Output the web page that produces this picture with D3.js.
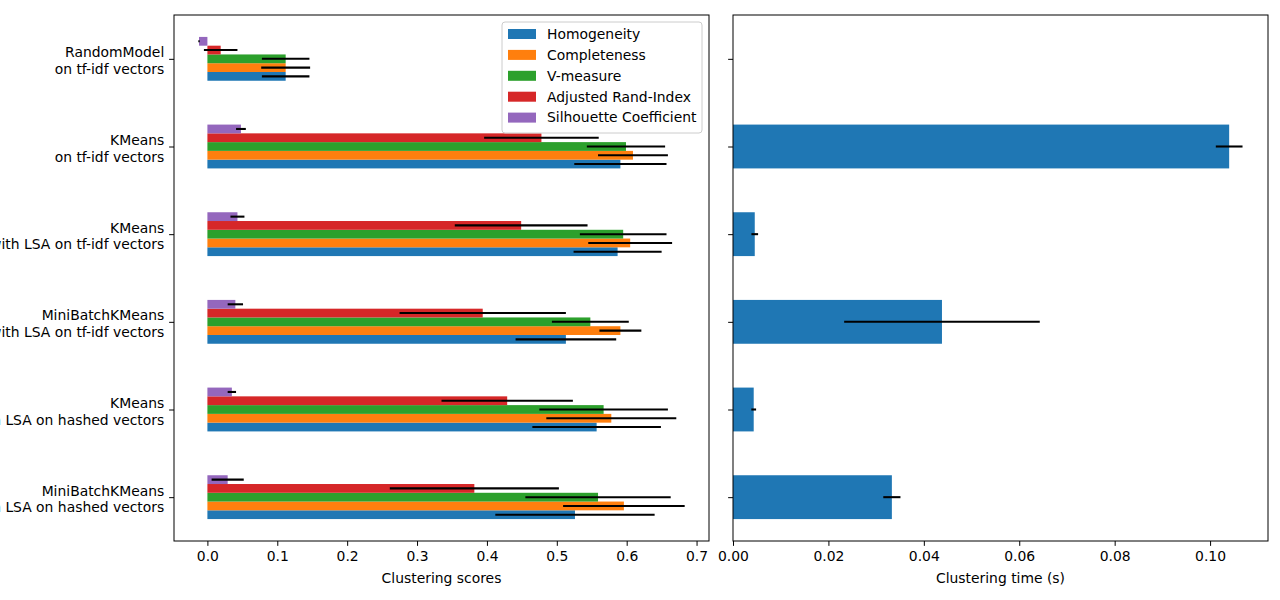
<!DOCTYPE html>
<html>
<head>
<meta charset="utf-8">
<script src="https://cdn.jsdelivr.net/npm/d3@7"></script>
<style>
  body { margin: 0; background: #fff; }
  svg { font-family: "DejaVu Sans", sans-serif; }
</style>
</head>
<body>
<div id="chart"></div>
<script>
// categories, top to bottom
const categories = [
    ['RandomModel', 'on tf-idf vectors'],
    ['KMeans', 'on tf-idf vectors'],
    ['KMeans', 'with LSA on tf-idf vectors'],
    ['MiniBatchKMeans', 'with LSA on tf-idf vectors'],
    ['KMeans', 'with LSA on hashed vectors'],
    ['MiniBatchKMeans', 'with LSA on hashed vectors']
]

const seriesNames = ['Homogeneity', 'Completeness', 'V-measure', 'Adjusted Rand-Index', 'Silhouette Coefficient']
const seriesColors = ['#1f77b4', '#ff7f0e', '#2ca02c', '#d62728', '#9467bd']

const homogeneity = [0.112, 0.591, 0.587, 0.513, 0.557, 0.526]
const homogeneityStd = [0.034, 0.066, 0.063, 0.072, 0.092, 0.114]
const completeness = [0.112, 0.609, 0.605, 0.591, 0.578, 0.596]
const completenessStd = [0.035, 0.050, 0.060, 0.030, 0.093, 0.087]
const vMeasure = [0.112, 0.599, 0.595, 0.548, 0.567, 0.559]
const vMeasureStd = [0.034, 0.056, 0.062, 0.055, 0.092, 0.104]
const randIndex = [0.019, 0.478, 0.449, 0.394, 0.429, 0.382]
const randIndexStd = [0.024, 0.082, 0.095, 0.119, 0.094, 0.121]
const silhouette = [-0.012, 0.048, 0.043, 0.040, 0.035, 0.029]
const silhouetteStd = [0.001, 0.007, 0.010, 0.011, 0.006, 0.023]

const fitTime = [0, 0.1040, 0.00456, 0.0438, 0.00434, 0.0333]
const fitTimeStd = [0, 0.0028, 0.0007, 0.0205, 0.0005, 0.0018]

const scoreTicks = [0, 0.1, 0.2, 0.3, 0.4, 0.5, 0.6, 0.7]
const timeTicks = [0, 0.02, 0.04, 0.06, 0.08, 0.10]

const values = [homogeneity, completeness, vMeasure, randIndex, silhouette]
const stds = [homogeneityStd, completenessStd, vMeasureStd, randIndexStd, silhouetteStd]

const width = 1280
const height = 600
const plotTop = 15
const plotBottom = 541
const fontSize = 13.9
const tickLen = 4.86
const tickPad = 4.86

const svg = d3.select('#chart')
    .append('svg')
    .attr('width', width)
    .attr('height', height)
svg.append('rect').attr('width', width).attr('height', height).attr('fill', '#fff')

const yScale = d3.scaleLinear().domain([-0.5, categories.length - 0.5]).range([plotTop, plotBottom])

// matplotlib-like 5% margins on the data extent
const lows = values.flatMap((s, i) => s.map((v, j) => Math.min(0, v - stds[i][j])))
const highs = values.flatMap((s, i) => s.map((v, j) => v + stds[i][j]))
const lo = d3.min(lows)
const hi = d3.max(highs)
const pad = (hi - lo) * 0.05
const xScore = d3.scaleLinear().domain([lo - pad, hi + pad]).range([174, 709])

const tHi = d3.max(fitTime, (d, i) => d + fitTimeStd[i])
const xTime = d3.scaleLinear().domain([0, tHi * 1.05]).range([733, 1268])

const drawXAxis = (scale, ticks, fmt, label) => {
    const g = svg.append('g')
        .attr('transform', `translate(0, ${plotBottom})`)
        .call(d3.axisBottom(scale).tickValues(ticks).tickFormat(d3.format(fmt)).tickSize(tickLen).tickPadding(tickPad))
    g.select('.domain').remove()
    g.selectAll('line').attr('stroke', '#000').attr('stroke-width', 1)
    g.selectAll('text')
        .attr('font-size', fontSize)
        .attr('font-family', 'DejaVu Sans')
        .attr('fill', '#000')
        .attr('dy', '0.76em')
    const r = scale.range()
    svg.append('text')
        .attr('x', (r[0] + r[1]) / 2)
        .attr('y', 583)
        .attr('text-anchor', 'middle')
        .attr('font-size', fontSize)
        .text(label)
}

const drawYTicks = (x0, withLabels) => {
    const g = svg.append('g')
        .attr('transform', `translate(${x0}, 0)`)
        .call(d3.axisLeft(yScale).tickValues(d3.range(categories.length)).tickFormat('').tickSize(tickLen))
    g.select('.domain').remove()
    g.selectAll('line').attr('stroke', '#000')
    if (withLabels) {
        categories.forEach((c, j) => {
            const t = svg.append('text')
                .attr('text-anchor', 'end')
                .attr('font-size', fontSize)
                .attr('fill', '#000')
            c.forEach((line, k) => {
                t.append('tspan')
                    .attr('x', x0 - tickLen - tickPad)
                    .attr('y', yScale(j) - 1.5 + k * 16.6)
                    .text(line)
            })
        })
    }
}

// left panel: scores
const barH = yScale(0.1) - yScale(0)
values.forEach((series, i) => {
    svg.append('g')
        .selectAll('rect')
        .data(series)
        .enter()
        .append('rect')
        .attr('x', (d) => xScore(Math.min(0, d)))
        .attr('y', (d, j) => yScale(j + (2 - i) * 0.1 - 0.05))
        .attr('width', (d) => Math.abs(xScore(d) - xScore(0)))
        .attr('height', barH)
        .attr('fill', seriesColors[i])
})
values.forEach((series, i) => {
    svg.append('g')
        .selectAll('line')
        .data(series)
        .enter()
        .append('line')
        .attr('x1', (d, j) => xScore(d - stds[i][j]))
        .attr('x2', (d, j) => xScore(d + stds[i][j]))
        .attr('y1', (d, j) => yScale(j + (2 - i) * 0.1))
        .attr('y2', (d, j) => yScale(j + (2 - i) * 0.1))
        .attr('stroke', '#000')
        .attr('stroke-width', 2.08)
})
drawXAxis(xScore, scoreTicks, '.1f', 'Clustering scores')
drawYTicks(174, true)

// right panel: timing
svg.append('g')
    .selectAll('rect')
    .data(fitTime)
    .enter()
    .append('rect')
    .attr('x', xTime(0))
    .attr('y', (d, j) => yScale(j - 0.25))
    .attr('width', (d) => xTime(d) - xTime(0))
    .attr('height', yScale(0.5) - yScale(0))
    .attr('fill', seriesColors[0])
svg.append('g')
    .selectAll('line')
    .data(fitTime)
    .enter()
    .append('line')
    .attr('x1', (d, j) => xTime(d - fitTimeStd[j]))
    .attr('x2', (d, j) => xTime(d + fitTimeStd[j]))
    .attr('y1', (d, j) => yScale(j))
    .attr('y2', (d, j) => yScale(j))
    .attr('stroke', '#000')
    .attr('stroke-width', 2.08)
drawXAxis(xTime, timeTicks, '.2f', 'Clustering time (s)')
drawYTicks(733, false)

// frames
;[xScore, xTime].forEach((s) => {
    const r = s.range()
    svg.append('rect')
        .attr('x', r[0])
        .attr('y', plotTop)
        .attr('width', r[1] - r[0])
        .attr('height', plotBottom - plotTop)
        .attr('fill', 'none')
        .attr('stroke', '#000')
        .attr('stroke-width', 1)
})

// legend
const legend = svg.append('g').attr('transform', 'translate(502, 22)')
legend.append('rect')
    .attr('width', 200)
    .attr('height', 111)
    .attr('rx', 3)
    .attr('fill', '#fff')
    .attr('fill-opacity', 0.8)
    .attr('stroke', '#cccccc')
seriesNames.forEach((name, i) => {
    legend.append('rect')
        .attr('x', 6)
        .attr('y', 7 + i * 20.9)
        .attr('width', 28)
        .attr('height', 10)
        .attr('fill', seriesColors[i])
    legend.append('text')
        .attr('x', 45)
        .attr('y', 12 + i * 20.9)
        .attr('dy', '0.35em')
        .attr('font-size', fontSize)
        .text(name)
})
</script>
</body>
</html>
